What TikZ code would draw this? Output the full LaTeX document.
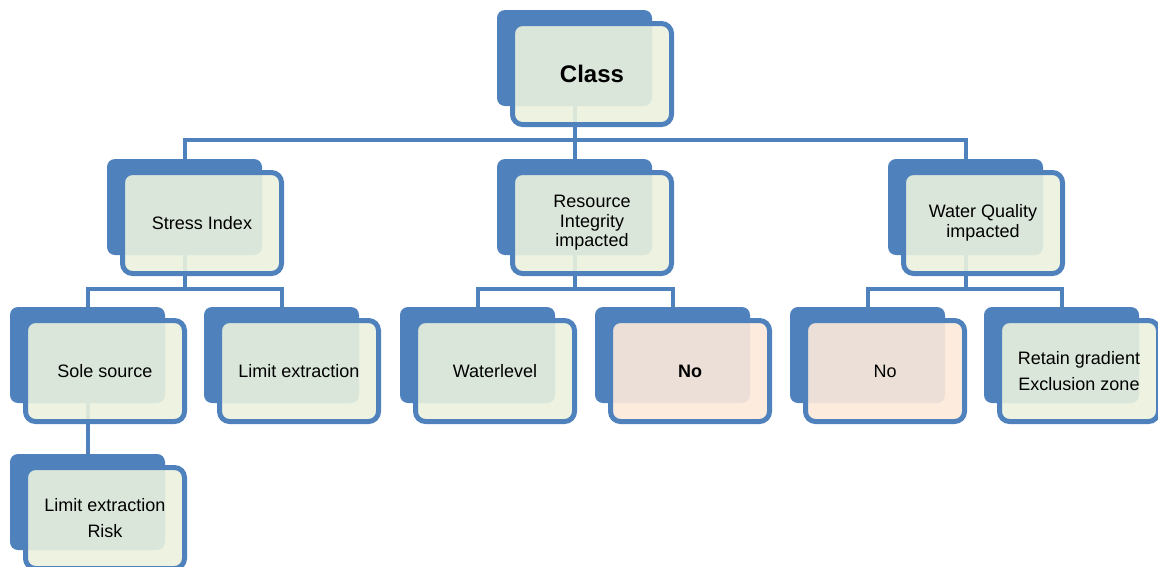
\documentclass[tikz,border=0pt]{standalone}
\usepackage{fontspec}
\setmainfont{Liberation Sans}
\usetikzlibrary{backgrounds}
\definecolor{bblue}{RGB}{79,129,189}
\definecolor{gfill}{RGB}{235,241,222}
\definecolor{ofill}{RGB}{253,234,218}
\tikzset{
  backbox/.style={fill=bblue, draw=none, rounded corners=8pt, minimum width=155pt, minimum height=96pt, inner sep=0pt},
  frontbox/.style={fill=gfill, fill opacity=0.9, text opacity=1, draw=bblue, line width=5pt, rounded corners=10pt,
     minimum width=159pt, minimum height=101pt, inner sep=0pt, align=center, text=black,
     font=\fontsize{18}{19.5}\selectfont},
  nobox/.style={frontbox, fill=ofill},
  wide/.style={font=\fontsize{18}{26}\selectfont},
  link/.style={draw=bblue, line width=4pt},
}
\begin{document}
\begin{tikzpicture}[x=1pt,y=-1pt]
\useasboundingbox (0,0) rectangle (1158,566);
% row 1
\node[backbox] (cB) at (574.5,58) {};
\node[frontbox, font=\fontsize{24}{26}\selectfont\bfseries] (c) at (592,74) {Class};
% row 2
\node[backbox] (sB) at (184.5,207) {};
\node[frontbox] (s) at (202,223) {Stress Index};
\node[backbox] (rB) at (574.5,207) {};
\node[frontbox] (r) at (592,223) {Resource\\Integrity\\impacted};
\node[backbox] (wB) at (965.5,207) {};
\node[frontbox] (w) at (983,223) {Water Quality\\impacted};
% row 3
\node[backbox] (soB) at (87.5,355) {};
\node[frontbox] (so) at (105,371) {Sole source};
\node[backbox] (leB) at (281.5,355) {};
\node[frontbox] (le) at (299,371) {Limit extraction};
\node[backbox] (wlB) at (477.5,355) {};
\node[frontbox] (wl) at (495,371) {Waterlevel};
\node[backbox] (n1B) at (672.5,355) {};
\node[nobox, font=\fontsize{18}{19.5}\selectfont\bfseries] (n1) at (690,371) {No};
\node[backbox] (n2B) at (867.5,355) {};
\node[nobox] (n2) at (885,371) {No};
\node[backbox] (rgB) at (1061.5,355) {};
\node[frontbox, wide] (rg) at (1079,371) {Retain gradient\\Exclusion zone};
% row 4
\node[backbox] (lrB) at (87.5,502) {};
\node[frontbox, wide] (lr) at (105,518) {Limit extraction\\Risk};
% connectors
\coordinate (bus1) at (0,140);
\coordinate (bus2) at (0,289);
\begin{pgfonlayer}{background}
\draw[link] (cB) -- (cB |- bus1);
\draw[link] (sB.north) -- (sB |- bus1) -- (wB |- bus1) -- (wB.north);
\draw[link] (rB |- bus1) -- (rB.north);
\draw[link] (sB) -- (sB |- bus2);
\draw[link] (soB.north) -- (soB |- bus2) -- (leB |- bus2) -- (leB.north);
\draw[link] (rB) -- (rB |- bus2);
\draw[link] (wlB.north) -- (wlB |- bus2) -- (n1B |- bus2) -- (n1B.north);
\draw[link] (wB) -- (wB |- bus2);
\draw[link] (n2B.north) -- (n2B |- bus2) -- (rgB |- bus2) -- (rgB.north);
\draw[link] (soB) -- (lrB.north);
\end{pgfonlayer}
\end{tikzpicture}
\end{document}
